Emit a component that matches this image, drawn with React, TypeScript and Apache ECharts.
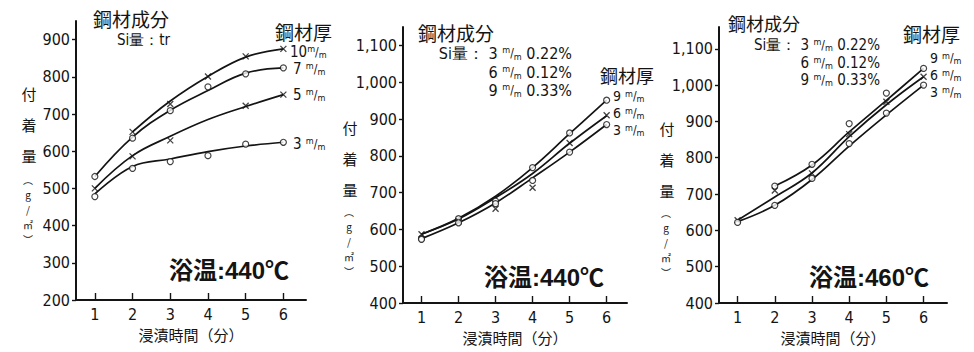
import React, { useEffect, useRef } from "react";
import * as echarts from "echarts";

// ---------- data ----------
const X_TICKS = [1, 2, 3, 4, 5, 6];
const P1_Y_TICKS = [200, 300, 400, 500, 600, 700, 800, 900];
const P23_Y_TICKS = [400, 500, 600, 700, 800, 900, 1000, 1100];

// Panel 1: bath 440°C, Si: tr  (fitted curves and measured points)
const p1Curve10 = [[2, 652], [3, 735], [4, 801], [5, 853], [6, 875]];
const p1Curve7 = [[1, 532], [2, 638], [3, 710], [4, 763], [5, 810], [6, 824]];
const p1Curve5 = [[1, 500], [2, 588], [3, 640], [4, 685], [5, 720], [6, 752]];
const p1Curve3 = [[1, 485], [2, 559], [3, 579], [4, 599], [5, 614], [6, 624]];
const p1Pts10 = [[2, 652], [3, 727], [4, 801], [5, 855], [6, 875]];
const p1Pts7 = [[1, 532], [2, 635], [3, 709], [4, 773], [5, 808], [6, 824]];
const p1Pts5 = [[1, 500], [2, 586], [3, 629], [5, 722], [6, 752]];
const p1Pts3 = [[1, 478], [2, 554], [3, 572], [4, 588], [5, 619], [6, 624]];

// Panel 2: bath 440°C
const p2Curve9 = [[1, 587], [2, 630], [3, 690], [4, 768], [5, 860], [6, 951]];
const p2Curve6 = [[1, 587], [2, 628], [3, 686], [4, 752], [5, 834], [6, 909]];
const p2Curve3 = [[1, 575], [2, 618], [3, 672], [4, 740], [5, 810], [6, 885]];
const p2Pts9 = [[1, 575], [2, 629], [3, 677], [4, 768], [5, 862], [6, 951]];
const p2Pts6 = [[1, 587], [2, 622], [3, 656], [4, 713], [5, 835], [6, 910]];
const p2Pts3 = [[1, 573], [2, 618], [3, 670], [4, 733], [5, 810], [6, 885]];

// Panel 3: bath 460°C
const p3Curve9 = [[2, 722], [3, 780], [4, 871], [5, 958], [6, 1046]];
const p3Curve6 = [[1, 628], [2, 692], [3, 758], [4, 858], [5, 946], [6, 1023]];
const p3Curve3 = [[1, 624], [2, 669], [3, 740], [4, 832], [5, 918], [6, 1000]];
const p3Pts9 = [[2, 722], [3, 782], [4, 894], [5, 978], [6, 1046]];
const p3Pts6 = [[1, 628], [2, 710], [3, 757], [4, 865], [5, 954], [6, 1023]];
const p3Pts3 = [[1, 622], [2, 669], [3, 743], [4, 839], [5, 923], [6, 1000]];

// ---------- styles ----------
const INK = "#141414";
const NUM_FONT = "'Liberation Sans Narrow', 'DejaVu Sans Condensed', 'Liberation Sans', sans-serif";
const CJK_FONT = "'Noto Sans CJK JP', 'Noto Sans CJK SC', sans-serif";
const BIG_FONT = "'Liberation Sans', 'Noto Sans CJK JP', sans-serif";
const XPATH = "path://M0,0L10,10M10,0L0,10";

const MM = "{u|m}{s|/}{d|m}";
const MM_RICH = {
  u: { fontSize: 9, lineHeight: 13, verticalAlign: "top", fontFamily: NUM_FONT, fill: INK, color: INK },
  s: { fontSize: 12, lineHeight: 13, fontFamily: NUM_FONT, fill: INK, color: INK },
  d: { fontSize: 9, lineHeight: 13, verticalAlign: "bottom", fontFamily: NUM_FONT, fill: INK, color: INK },
};

function txt(text: string, x: number, y: number, opts: any = {}) {
  const fs = opts.fontSize ?? 15;
  return {
    type: "text",
    x,
    y,
    silent: true,
    style: {
      text,
      fill: INK,
      fontSize: fs,
      lineHeight: opts.lineHeight ?? fs,
      fontFamily: opts.fontFamily ?? NUM_FONT,
      fontWeight: opts.fontWeight ?? "normal",
      align: opts.align ?? "left",
      verticalAlign: "middle",
      rich: MM_RICH,
    },
  };
}

// vertical y-axis title: "付着量（g/㎡）"
function vName(x: number, yTop: number, yUnit: number) {
  return [
    txt("付\n着\n量", x, yTop, { fontSize: 15, lineHeight: 31, fontFamily: CJK_FONT, align: "center" }),
    txt("︵\ng\n/\n㎡\n︶", x - 1, yUnit, { fontSize: 10, lineHeight: 15, fontFamily: CJK_FONT, align: "center" }),
  ];
}

function xAxis(gi: number, min: number, max: number, nameGap: number) {
  return {
    type: "value",
    gridIndex: gi,
    min,
    max,
    axisLine: { show: true, onZero: false, lineStyle: { color: INK, width: 2 } },
    axisTick: { show: true, inside: true, length: 7, customValues: X_TICKS, lineStyle: { color: INK, width: 1.4 } },
    axisLabel: { customValues: X_TICKS, color: INK, fontSize: 16, margin: 6, fontFamily: NUM_FONT },
    splitLine: { show: false },
    name: "浸漬時間（分）",
    nameLocation: "middle",
    nameGap,
    nameTextStyle: { color: INK, fontSize: 15, fontFamily: CJK_FONT },
  };
}

function yAxis(gi: number, min: number, max: number, ticks: number[]) {
  return {
    type: "value",
    gridIndex: gi,
    min,
    max,
    axisLine: { show: true, onZero: false, lineStyle: { color: INK, width: 2 } },
    axisTick: { show: true, length: 4, customValues: ticks, lineStyle: { color: INK, width: 1.4 } },
    axisLabel: {
      customValues: ticks,
      color: INK,
      fontSize: 16,
      margin: 6,
      fontFamily: NUM_FONT,
      formatter: (v: number) => v.toLocaleString("en-US"),
    },
    splitLine: { show: false },
  };
}

function curve(data: number[][], gi: number) {
  return {
    type: "line",
    xAxisIndex: gi,
    yAxisIndex: gi,
    data,
    smooth: 0.4,
    symbol: "none",
    showSymbol: false,
    silent: true,
    lineStyle: { color: INK, width: 1.7 },
    z: 2,
  };
}

function marks(data: number[][], gi: number, kind: "o" | "x") {
  return {
    type: "scatter",
    xAxisIndex: gi,
    yAxisIndex: gi,
    data,
    silent: true,
    symbol: kind === "o" ? "circle" : XPATH,
    symbolSize: 6,
    itemStyle:
      kind === "o"
        ? { color: "#ffffff", borderColor: INK, borderWidth: 1.2 }
        : { color: "rgba(0,0,0,0)", borderColor: INK, borderWidth: 1.3 },
    z: 3,
  };
}

export default function App() {
  const ref = useRef<HTMLDivElement>(null);
  useEffect(() => {
    if (!ref.current) return;
    const chart = echarts.init(ref.current, null, { renderer: "svg" });
    const option: any = {
      animation: false,
      backgroundColor: "#ffffff",
      grid: [
        { left: 76, top: 21, width: 230, height: 279, outerBoundsMode: "none" },
        { left: 403, top: 27, width: 224, height: 276, outerBoundsMode: "none" },
        { left: 719, top: 27, width: 228, height: 276, outerBoundsMode: "none" },
      ],
      xAxis: [xAxis(0, 0.5, 6.6, 17), xAxis(1, 0.5, 6.55, 21), xAxis(2, 0.5, 6.63, 19)],
      yAxis: [yAxis(0, 200, 950, P1_Y_TICKS), yAxis(1, 400, 1150, P23_Y_TICKS), yAxis(2, 400, 1160, P23_Y_TICKS)],
      series: [
        curve(p1Curve10, 0), curve(p1Curve7, 0), curve(p1Curve5, 0), curve(p1Curve3, 0),
        marks(p1Pts10, 0, "x"), marks(p1Pts7, 0, "o"), marks(p1Pts5, 0, "x"), marks(p1Pts3, 0, "o"),
        curve(p2Curve9, 1), curve(p2Curve6, 1), curve(p2Curve3, 1),
        marks(p2Pts9, 1, "o"), marks(p2Pts6, 1, "x"), marks(p2Pts3, 1, "o"),
        curve(p3Curve9, 2), curve(p3Curve6, 2), curve(p3Curve3, 2),
        marks(p3Pts9, 2, "o"), marks(p3Pts6, 2, "x"), marks(p3Pts3, 2, "o"),
      ],
      graphic: [
        // panel 1
        txt("鋼材成分", 93, 18, { fontSize: 19, fontFamily: CJK_FONT }),
        txt("Si量：tr", 117, 40, { fontSize: 15 }),
        txt("鋼材厚", 275, 31, { fontSize: 19, fontFamily: CJK_FONT }),
        txt("10" + MM, 290, 52, { fontSize: 15 }),
        txt("7 " + MM, 293, 69, { fontSize: 15 }),
        txt("5 " + MM, 293, 95, { fontSize: 15 }),
        txt("3 " + MM, 293, 144, { fontSize: 15 }),
        txt("浴温:440℃", 169, 270, { fontSize: 24, fontWeight: "bold", fontFamily: BIG_FONT }),
        ...vName(29, 124, 209),
        // panel 2
        txt("鋼材成分", 418, 32, { fontSize: 19, fontFamily: CJK_FONT }),
        txt("Si量： 3 " + MM + " 0.22%", 572, 53, { fontSize: 16, align: "right" }),
        txt("6 " + MM + " 0.12%", 572, 72, { fontSize: 16, align: "right" }),
        txt("9 " + MM + " 0.33%", 572, 90, { fontSize: 16, align: "right" }),
        txt("鋼材厚", 600, 75, { fontSize: 18, fontFamily: CJK_FONT }),
        txt("9 " + MM, 613, 96, { fontSize: 14 }),
        txt("6 " + MM, 613, 113, { fontSize: 14 }),
        txt("3 " + MM, 613, 130, { fontSize: 14 }),
        txt("浴温:440℃", 484, 277, { fontSize: 24, fontWeight: "bold", fontFamily: BIG_FONT }),
        ...vName(350, 158, 241),
        // panel 3
        txt("鋼材成分", 728, 23, { fontSize: 18, fontFamily: CJK_FONT }),
        txt("Si量： 3 " + MM + " 0.22%", 880, 45, { fontSize: 15, align: "right" }),
        txt("6 " + MM + " 0.12%", 880, 63, { fontSize: 15, align: "right" }),
        txt("9 " + MM + " 0.33%", 880, 80, { fontSize: 15, align: "right" }),
        txt("鋼材厚", 903, 33, { fontSize: 19, fontFamily: CJK_FONT }),
        txt("9 " + MM, 930, 58, { fontSize: 14 }),
        txt("6 " + MM, 930, 75, { fontSize: 14 }),
        txt("3 " + MM, 930, 92, { fontSize: 14 }),
        txt("浴温:460℃", 809, 277, { fontSize: 24, fontWeight: "bold", fontFamily: BIG_FONT }),
        ...vName(667, 159, 242),
      ],
    };
    chart.setOption(option);
    return () => chart.dispose();
  }, []);
  return (
    <div
      ref={ref}
      style={{ position: "absolute", left: 0, top: 0, width: 974, height: 352, background: "#fff" }}
    />
  );
}
